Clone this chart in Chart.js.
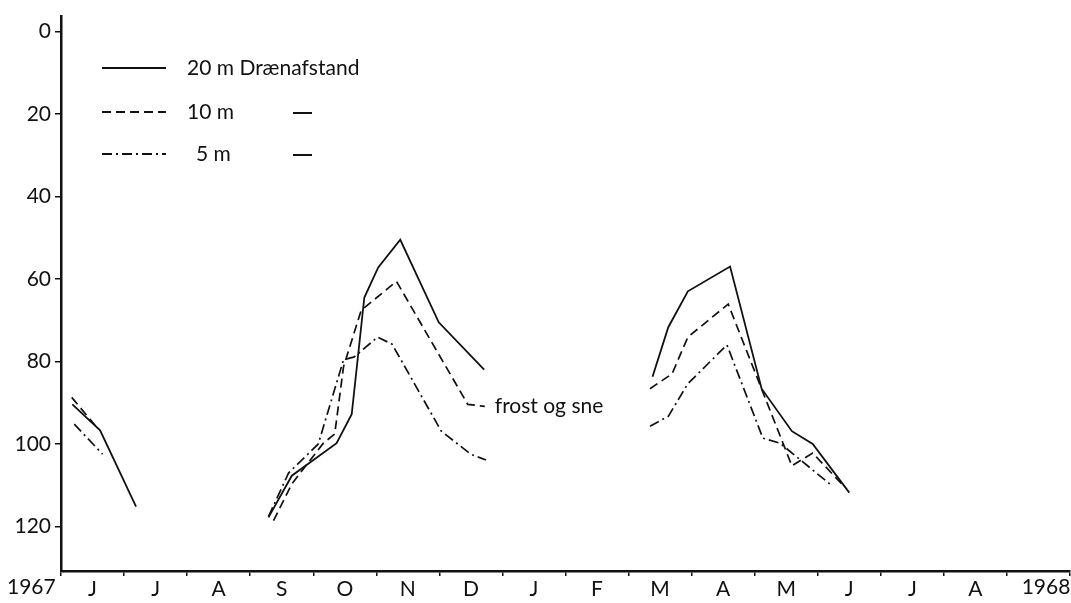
<!DOCTYPE html>
<html>
<head>
<meta charset="utf-8">
<script src="https://cdn.jsdelivr.net/npm/chart.js@4/dist/chart.umd.min.js"></script>
<style>
    html, body { margin: 0; padding: 0; background: #fff; }
    #wrap { width: 1071px; height: 603px; position: relative; }
</style>
</head>
<body>
<div id="wrap"><canvas id="chart"></canvas></div>
<script>
// month index: 0 = start of June 1967, one unit per month
const monthLabels = ["J", "J", "A", "S", "O", "N", "D", "J", "F", "M", "A", "M", "J", "J", "A"];
const yearLabels = [{ value: -0.47, text: "1967" }, { value: 15.62, text: "1968" }];
const yTicks = [0, 20, 40, 60, 80, 100, 120];

// 20 m Drænafstand
const solidX = [0.18, 0.62, 1.19, 2,
    3.29, 3.66, 4.37, 4.61, 4.81, 5.03, 5.38, 5.99, 6.71, 8,
    9.38, 9.63, 9.94, 10.61, 11.11, 11.59, 11.92, 12.50];
const solidY = [90.4, 96.7, 115.2, null,
    117.8, 107.7, 99.8, 92.8, 64.5, 57.2, 50.5, 70.5, 82.0, null,
    83.7, 71.7, 63.0, 57.0, 86.6, 96.9, 100.0, 111.8];

// 10 m
const dashX = [0.17, 0.59, 2,
    3.37, 3.66, 4.16, 4.34, 4.48, 4.76, 5.32, 6.45, 6.72, 8,
    9.34, 9.69, 9.94, 10.58, 11.59, 11.92, 12.38];
const dashY = [88.7, 96.4, null,
    118.6, 109.7, 99.8, 97.6, 81.3, 67.6, 60.6, 90.4, 90.9, null,
    86.6, 83.0, 74.1, 66.1, 105.3, 102.2, 109.7];

// 5 m
const dotX = [0.21, 0.66, 2,
    3.29, 3.61, 4.08, 4.48, 4.65, 5.02, 5.25, 6.03, 6.50, 6.74, 8,
    9.34, 9.63, 9.94, 10.56, 11.13, 11.40, 12.19];
const dotY = [95.2, 102.5, null,
    117.6, 107.0, 100.0, 79.6, 78.9, 74.1, 75.8, 96.9, 102.5, 103.9, null,
    95.7, 93.3, 85.4, 76.0, 98.6, 99.8, 109.7];

const note = { x: 6.72, y: 90.9, text: "frost og sne" };

const INK = "#111";
const FONT = "Lato, 'Open Sans', sans-serif";
const FONT_SIZE = 21;
const FONT_WEIGHT = "normal";

function toPoints(xs, ys) {
    return xs.map((x, i) => ({ x, y: ys[i] }));
}

const legendPlugin = {
    id: "legendDraw",
    afterDraw(chart) {
        const ctx = chart.ctx;
        ctx.save();
        ctx.strokeStyle = INK;
        ctx.fillStyle = INK;
        ctx.lineWidth = 1.8;
        ctx.font = FONT_WEIGHT + " " + FONT_SIZE + "px " + FONT;
        ctx.textBaseline = "middle";

        const rows = [
            { y: 68, dash: [], label: "20 m Drænafstand", tx: 187, ditto: false },
            { y: 112, dash: [9, 5], label: "10 m", tx: 187, ditto: true },
            { y: 154, dash: [10, 4, 2, 4], label: "5 m", tx: 196, ditto: true }
        ];
        rows.forEach(r => {
            ctx.setLineDash(r.dash);
            ctx.beginPath();
            ctx.moveTo(102, r.y);
            ctx.lineTo(166, r.y);
            ctx.stroke();
            ctx.fillText(r.label, r.tx, r.y);
            if (r.ditto) {
                // ditto dash
                ctx.setLineDash([]);
                ctx.lineWidth = 2;
                ctx.beginPath();
                ctx.moveTo(293, r.y + 1);
                ctx.lineTo(312, r.y + 1);
                ctx.stroke();
                ctx.lineWidth = 1.8;
            }
        });
        ctx.setLineDash([]);

        // note at the end of the 10 m curve
        const xs = chart.scales.x, ys = chart.scales.y;
        ctx.fillText(note.text, xs.getPixelForValue(note.x) + 10, ys.getPixelForValue(note.y));

        // year labels beside the month letters
        ctx.textAlign = "center";
        yearLabels.forEach(l => {
            ctx.fillText(l.text, xs.getPixelForValue(l.value), chart.chartArea.bottom + 16);
        });
        ctx.restore();
    }
};

new Chart(document.getElementById("chart"), {
    type: "line",
    data: {
        datasets: [
            {
                label: "20 m Drænafstand",
                data: toPoints(solidX, solidY),
                borderColor: INK,
                borderWidth: 1.8
            },
            {
                label: "10 m",
                data: toPoints(dashX, dashY),
                borderColor: INK,
                borderWidth: 1.7,
                borderDash: [9, 5]
            },
            {
                label: "5 m",
                data: toPoints(dotX, dotY),
                borderColor: INK,
                borderWidth: 1.7,
                borderDash: [10, 4, 2, 4]
            }
        ]
    },
    options: {
        responsive: true,
        maintainAspectRatio: false,
        animation: false,
        spanGaps: false,
        elements: {
            point: { radius: 0 },
            line: { tension: 0 }
        },
        layout: { padding: { top: 12, right: 0, left: 0, bottom: 0 } },
        plugins: {
            legend: { display: false },
            tooltip: { enabled: false }
        },
        scales: {
            x: {
                type: "linear",
                min: 0,
                max: 16,
                border: { color: INK, width: 2.5 },
                grid: {
                    drawOnChartArea: false,
                    tickLength: 5,
                    lineWidth: 1.5,
                    color: c => (c.tick && Number.isInteger(c.tick.value) ? INK : "rgba(0,0,0,0)")
                },
                afterBuildTicks: s => {
                    const t = [];
                    for (let i = 0; i <= 16; i++) t.push({ value: i });
                    monthLabels.forEach((m, i) => t.push({ value: i + 0.5 }));
                    s.ticks = t.sort((a, b) => a.value - b.value);
                },
                ticks: {
                    autoSkip: false,
                    maxRotation: 0,
                    padding: 1,
                    color: INK,
                    font: { family: FONT, size: FONT_SIZE, weight: FONT_WEIGHT },
                    callback: v => (Number.isInteger(v) ? "" : monthLabels[Math.floor(v)])
                },
                afterFit: s => { s.height = 32; }
            },
            y: {
                type: "linear",
                reverse: true,
                min: -3.6,
                max: 130.8,
                border: { color: INK, width: 2.5 },
                grid: {
                    drawOnChartArea: false,
                    tickLength: 6,
                    lineWidth: 1.5,
                    color: INK
                },
                afterBuildTicks: s => {
                    s.ticks = yTicks.map(v => ({ value: v }));
                },
                ticks: {
                    padding: 4,
                    color: INK,
                    font: { family: FONT, size: FONT_SIZE, weight: FONT_WEIGHT }
                },
                afterFit: s => { s.width = 61; }
            }
        }
    },
    plugins: [legendPlugin]
});
</script>
</body>
</html>
